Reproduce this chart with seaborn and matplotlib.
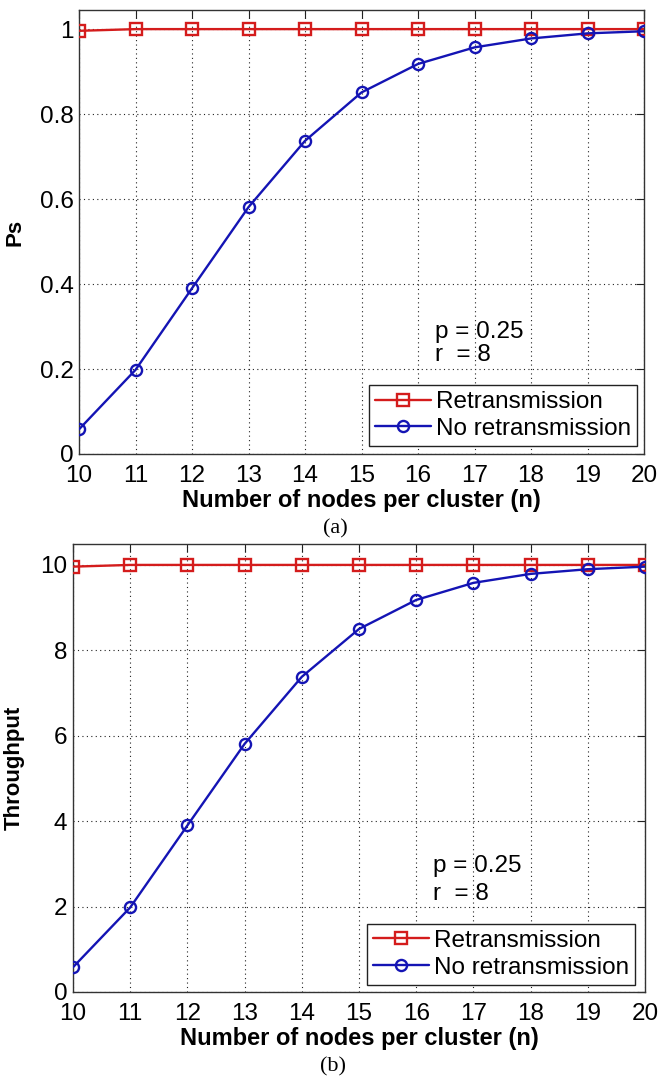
import matplotlib
matplotlib.use("Agg")
import matplotlib.pyplot as plt
import numpy as np
import pandas as pd
import seaborn as sns

# Cluster sizes on the x axis
nodes = [10, 11, 12, 13, 14, 15, 16, 17, 18, 19, 20]

# Success probability Ps
ps_retx = [0.996, 1.0, 1.0, 1.0, 1.0, 1.0, 1.0, 1.0, 1.0, 1.0, 1.0]
ps_noretx = [0.058, 0.198, 0.390, 0.581, 0.737, 0.851, 0.918, 0.957, 0.978, 0.990, 0.995]

# Throughput
thr_retx = [9.96, 10.0, 10.0, 10.0, 10.0, 10.0, 10.0, 10.0, 10.0, 10.0, 10.0]
thr_noretx = [0.58, 1.98, 3.90, 5.81, 7.38, 8.50, 9.18, 9.58, 9.79, 9.90, 9.96]

series_names = ["Retransmission", "No retransmission"]
x_ticks = list(range(10, 21))
ps_ticks = [0, 0.2, 0.4, 0.6, 0.8, 1]
ps_tick_labels = ["0", "0.2", "0.4", "0.6", "0.8", "1"]
thr_ticks = [0, 2, 4, 6, 8, 10]
thr_tick_labels = ["0", "2", "4", "6", "8", "10"]

sns.set_theme(style="white")
plt.rcParams["font.family"] = ["Liberation Sans", "DejaVu Sans"]
plt.rcParams["text.color"] = "black"
plt.rcParams["axes.labelcolor"] = "black"
plt.rcParams["xtick.color"] = "black"
plt.rcParams["ytick.color"] = "black"

RED = "#d41c1c"
BLUE = "#1414b4"

fig = plt.figure(figsize=(6.59, 10.82), dpi=100)
W, H = 659, 1082


def add_axes_px(left, top, right, bottom):
    return fig.add_axes([left / W, 1 - bottom / H, (right - left) / W, (bottom - top) / H])


def draw_panel(ax, retx, noretx, ymax, yticks, ytlabels, ylabel, text_y, legend_anchor):
    df = pd.DataFrame({
        "n": nodes * 2,
        "value": retx + noretx,
        "series": [series_names[0]] * len(nodes) + [series_names[1]] * len(nodes),
    })
    sns.lineplot(data=df[df.series == series_names[0]], x="n", y="value", ax=ax,
                 color=RED, lw=1.7, marker="s", markersize=8.5,
                 markerfacecolor="none", markeredgecolor=RED, markeredgewidth=1.7,
                 label=series_names[0], zorder=3)
    sns.lineplot(data=df[df.series == series_names[1]], x="n", y="value", ax=ax,
                 color=BLUE, lw=1.7, marker="o", markersize=8,
                 markerfacecolor="none", markeredgecolor=BLUE, markeredgewidth=1.7,
                 label=series_names[1], zorder=3)
    ax.set_xlim(10, 20)
    ax.set_ylim(0, ymax)
    ax.set_xticks(x_ticks)
    ax.set_xticklabels([str(t) for t in x_ticks])
    ax.set_yticks(yticks)
    ax.set_yticklabels(ytlabels)
    ax.grid(True, linestyle=(0, (1, 3)), color="#222222", linewidth=0.8)
    ax.tick_params(direction="in", length=6, width=0.8, top=True, right=True,
                   labelsize=17.5, colors="#222222", labelcolor="black")
    ax.tick_params(axis="x", pad=8)
    ax.tick_params(axis="y", pad=4)
    for s in ax.spines.values():
        s.set_visible(True)
        s.set_color("#333333")
        s.set_linewidth(1.0)
    ax.set_xlabel("Number of nodes per cluster (n)", fontsize=17, fontweight="bold",
                  labelpad=1)
    ax.set_ylabel(ylabel, fontsize=16, fontweight="bold")
    ax.text(16.3, text_y[0], "p = 0.25", fontsize=17.5, va="center", ha="left")
    ax.text(16.3, text_y[1], "r  = 8", fontsize=17.5, va="center", ha="left")
    leg = ax.legend(loc="lower right", bbox_to_anchor=legend_anchor, fontsize=17.5,
                    frameon=True, fancybox=False, borderaxespad=0, handlelength=2.3,
                    handletextpad=0.2, borderpad=0.25, labelspacing=0.2)
    leg.get_frame().set_edgecolor("#222222")
    leg.get_frame().set_linewidth(1.0)
    leg.get_frame().set_alpha(1)


ax1 = add_axes_px(79, 10, 644, 454)
draw_panel(ax1, ps_retx, ps_noretx, 1.045, ps_ticks, ps_tick_labels, "Ps",
           (0.287, 0.233), (0.988, 0.018))
ax1.yaxis.set_label_coords(-0.095, 0.5)

ax2 = add_axes_px(73, 544, 645, 992)
draw_panel(ax2, thr_retx, thr_noretx, 10.49, thr_ticks, thr_tick_labels, "Throughput",
           (2.95, 2.3), (0.983, 0.016))
ax2.yaxis.set_label_coords(-0.085, 0.5)

fig.text(335 / W, 1 - 529 / H, "(a)", family="Liberation Serif", fontsize=16,
         ha="center", va="center")
fig.text(333 / W, 1 - 1067 / H, "(b)", family="Liberation Serif", fontsize=16,
         ha="center", va="center")

fig.savefig("out.png", dpi=100, facecolor="white")
